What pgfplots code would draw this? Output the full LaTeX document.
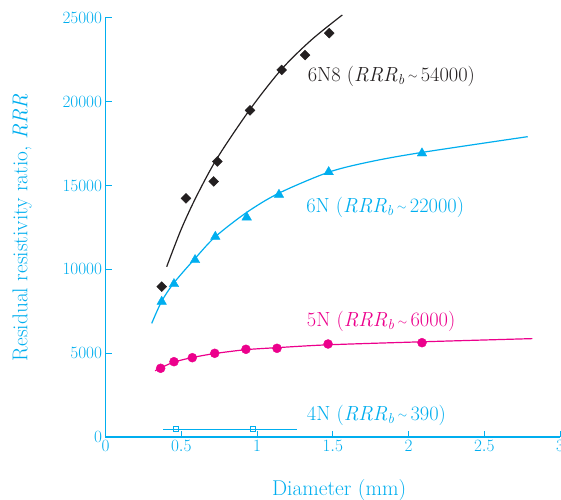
\documentclass[border=0pt]{standalone}
\usepackage{pgfplots}
\pgfplotsset{compat=1.18}
\usetikzlibrary{calc}
\definecolor{cy}{RGB}{0,174,239}
\definecolor{mg}{RGB}{236,0,140}
\definecolor{bk}{RGB}{35,31,32}
\newcommand{\lab}[2]{#1 (\textit{RRR}\textsubscript{\textit{b}}\,\raisebox{0.15ex}{\fontsize{13}{13}\selectfont$\sim$}\,#2)}
\begin{document}
\begin{tikzpicture}
\begin{axis}[
  scale only axis, width=454.5bp, height=419bp,
  xmin=0, xmax=3, ymin=0, ymax=25000,
  axis x line*=bottom, axis y line*=left,
  axis line style={cy, line width=1.1bp},
  tick style={cy, line width=1bp},
  major tick length=6bp, tick align=inside,
  xtick={0,0.5,1,1.5,2,2.5,3}, ytick={0,5000,10000,15000,20000,25000},
  scaled y ticks=false, scaled x ticks=false,
  minor tick num=0,
  /pgf/number format/1000 sep={},
  tick label style={color=cy, font=\fontsize{17}{20}\selectfont},
  xlabel={Diameter (mm)},
  ylabel={Residual resistivity ratio, \textit{RRR}},
  label style={color=cy, font=\fontsize{21.5}{24}\selectfont},
  xlabel style={at={($(rel axis cs:0.514,0)+(0,-53bp)$)}, anchor=center},
  ylabel style={at={($(rel axis cs:0,0.5)+(-83.5bp,0)$)}, anchor=center, rotate=0},
  clip=false,
]
% 6N8
\addplot[bk, line width=1.2bp, smooth, no marks] coordinates {(0.404,10160)(0.5,12400)(0.6,14350)(0.738,16650)(0.954,19550)(1.163,21950)(1.36,23700)(1.563,25180)};
\addplot[only marks, mark=square*, mark size=3.5bp, mark options={rotate=45, fill=bk, draw=bk}] coordinates {(0.371,8970)(0.531,14240)(0.714,15250)(0.738,16440)(0.954,19490)(1.163,21900)(1.317,22790)(1.477,24100)};
% 6N
\addplot[cy, line width=1.2bp, smooth, no marks] coordinates {(0.305,6780)(0.371,8100)(0.452,9200)(0.591,10650)(0.725,11950)(0.932,13400)(1.145,14550)(1.473,15800)(1.75,16430)(2.089,16980)(2.787,17920)};
\addplot[only marks, mark=triangle*, mark size=5.5bp, mark options={fill=cy, draw=cy}] coordinates {(0.371,8073)(0.452,9129)(0.591,10561)(0.725,11951)(0.932,13108)(1.145,14457)(1.473,15811)(2.089,16927)};
% 5N
\addplot[mg, line width=1.2bp, smooth, no marks] coordinates {(0.327,3950)(0.364,4120)(0.452,4470)(0.573,4740)(0.721,4980)(0.927,5210)(1.132,5330)(1.469,5500)(2.089,5680)(2.817,5870)};
\addplot[only marks, mark=*, mark size=4.5bp, mark options={fill=mg, draw=mg}] coordinates {(0.364,4099)(0.452,4493)(0.573,4732)(0.721,4994)(0.927,5233)(1.132,5292)(1.469,5549)(2.089,5627)};
% 4N
\addplot[cy, line width=1.4bp, no marks] coordinates {(0.382,460)(1.266,460)};
\addplot[only marks, mark=square, mark size=2.6bp, mark options={draw=cy, line width=1bp, fill=white}] coordinates {(0.465,460)(0.972,460)};
\node[anchor=west, inner sep=0pt, text=bk, font=\fontsize{20.5}{24}\selectfont] at (axis cs:1.334,21540) {\lab{6N8}{54000}};
\node[anchor=west, inner sep=0pt, text=cy, font=\fontsize{20.5}{24}\selectfont] at (axis cs:1.324,13723) {\lab{6N}{22000}};
\node[anchor=west, inner sep=0pt, text=mg, font=\fontsize{20.5}{24}\selectfont] at (axis cs:1.328,6880) {\lab{5N}{6000}};
\node[anchor=west, inner sep=0pt, text=cy, font=\fontsize{20.5}{24}\selectfont] at (axis cs:1.328,1313) {\lab{4N}{390}};
\end{axis}
\pgfresetboundingbox
\path (-105.5bp,-63bp) rectangle (455.5bp,437bp);
\end{tikzpicture}
\end{document}
